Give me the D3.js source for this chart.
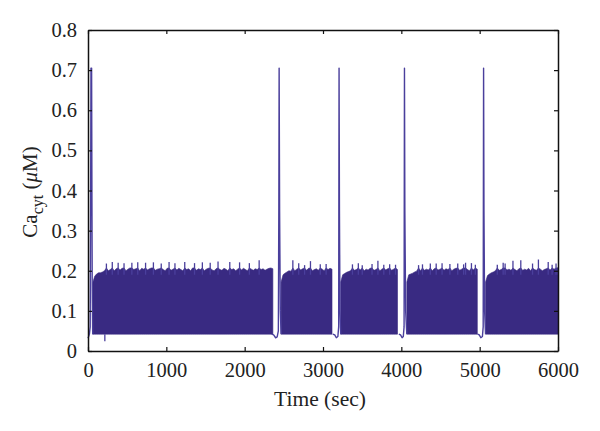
<!DOCTYPE html>
<html>
<head>
<meta charset="utf-8">
<script src="https://cdn.jsdelivr.net/npm/d3@7"></script>
<style>
    body { margin: 0; background: #fff; }
    text { font-family: "Liberation Serif", serif; fill: #222; }
</style>
</head>
<body>
<script>
// tick labels
const xTicks = [0, 1000, 2000, 3000, 4000, 5000, 6000];
const yTicks = [0, 0.1, 0.2, 0.3, 0.4, 0.5, 0.6, 0.7, 0.8];

// quiet stretches around each large spike
const gapTimes = [
    [0, 8, 18, 28, 34, 38, 46, 50, 54, 60],
    [2345, 2370, 2395, 2415, 2430, 2436, 2440, 2446, 2455, 2465],
    [3124, 3150, 3170, 3190, 3200, 3205, 3210, 3217, 3226],
    [3968, 3990, 4010, 4025, 4035, 4040, 4045, 4055, 4070],
    [4973, 4995, 5015, 5035, 5045, 5050, 5055, 5063, 5075]
];
const gapValues = [
    [0.032, 0.036, 0.042, 0.06, 0.4, 0.705, 0.705, 0.4, 0.15, 0.042],
    [0.042, 0.04, 0.033, 0.035, 0.05, 0.35, 0.705, 0.35, 0.1, 0.042],
    [0.042, 0.04, 0.033, 0.036, 0.06, 0.705, 0.35, 0.1, 0.042],
    [0.042, 0.04, 0.033, 0.036, 0.06, 0.705, 0.35, 0.1, 0.042],
    [0.042, 0.04, 0.033, 0.036, 0.06, 0.705, 0.35, 0.1, 0.042]
];

// peak height of each oscillation in the five bursts
const burstStarts = [60, 2465, 3226, 4070, 5075];
const burstPeaks = [
    [0.17, 0.186, 0.192, 0.195, 0.195, 0.197, 0.2, 0.218, 0.2, 0.203, 0.222, 0.2, 0.205, 0.22, 0.202, 0.206, 0.219, 0.2, 0.204, 0.207, 0.22, 0.203, 0.205, 0.221, 0.2, 0.206, 0.204, 0.22, 0.202, 0.205, 0.207, 0.221, 0.201, 0.204, 0.205, 0.218, 0.203, 0.2, 0.206, 0.222, 0.201, 0.204, 0.219, 0.202, 0.206, 0.203, 0.2, 0.222, 0.203, 0.205, 0.2, 0.207, 0.219, 0.201, 0.205, 0.203, 0.221, 0.2, 0.204, 0.206, 0.22, 0.202, 0.2, 0.205, 0.223, 0.203, 0.201, 0.206, 0.204, 0.2, 0.222, 0.203, 0.205, 0.2, 0.204, 0.221, 0.202, 0.206, 0.203, 0.2, 0.219, 0.204, 0.201, 0.205, 0.203, 0.226, 0.203, 0.205, 0.201, 0.204, 0.206, 0.207, 0.205],
    [0.172, 0.19, 0.194, 0.197, 0.2, 0.199, 0.226, 0.2, 0.204, 0.219, 0.202, 0.205, 0.214, 0.201, 0.206, 0.224, 0.2, 0.203, 0.205, 0.201, 0.216, 0.204, 0.2, 0.217, 0.203, 0.206, 0.204],
    [0.172, 0.19, 0.193, 0.196, 0.198, 0.2, 0.216, 0.201, 0.203, 0.219, 0.202, 0.214, 0.2, 0.204, 0.202, 0.206, 0.217, 0.201, 0.203, 0.225, 0.2, 0.204, 0.215, 0.202, 0.205, 0.216, 0.201, 0.204, 0.215, 0.203],
    [0.172, 0.19, 0.192, 0.194, 0.197, 0.199, 0.214, 0.2, 0.216, 0.201, 0.204, 0.202, 0.218, 0.2, 0.205, 0.218, 0.202, 0.204, 0.219, 0.201, 0.205, 0.203, 0.217, 0.2, 0.204, 0.206, 0.218, 0.201, 0.204, 0.216, 0.22, 0.203, 0.2, 0.219, 0.202, 0.215, 0.204],
    [0.172, 0.188, 0.192, 0.195, 0.197, 0.2, 0.215, 0.201, 0.203, 0.22, 0.218, 0.202, 0.204, 0.201, 0.225, 0.203, 0.2, 0.205, 0.226, 0.201, 0.204, 0.202, 0.206, 0.2, 0.218, 0.203, 0.201, 0.228, 0.204, 0.2, 0.203, 0.205, 0.222, 0.202, 0.215, 0.204, 0.218, 0.208]
];
const burstLow = 0.042;
const bandCap = 0.207;
const peakStep = 25;

// lone downward blip early in the first burst
const dipTimes = [215, 215];
const dipValues = [0.042, 0.024];

const width = 600, height = 431;
const plotLeft = 88, plotRight = 558, plotTop = 30, plotBottom = 351;
const traceColor = '#392a82';
const spikeColor = '#4a3f9c';

const x = d3.scaleLinear().domain([0, 6000]).range([plotLeft, plotRight]);
const y = d3.scaleLinear().domain([0, 0.8]).range([plotBottom, plotTop]);

const svg = d3.select('body').append('svg')
    .attr('width', width)
    .attr('height', height)
    .style('display', 'block');

const line = d3.line().x(d => x(d[0])).y(d => y(d[1]));
const area = d3.area().x(d => x(d[0])).y0(y(burstLow)).y1(d => y(Math.min(d[1], bandCap)));

// the oscillations are too tight to resolve, so each burst is a filled band
// with the taller peaks poking out as thin lines
burstStarts.forEach((start, b) => {
    const peaks = burstPeaks[b].map((p, i) => [start + i * peakStep, p]);
    svg.append('path')
        .datum(peaks)
        .attr('d', area)
        .attr('fill', traceColor)
        .attr('stroke', traceColor)
        .attr('stroke-width', 0.6);

    svg.selectAll(null)
        .data(peaks.filter(d => d[1] > bandCap))
        .enter().append('line')
        .attr('x1', d => x(d[0]))
        .attr('x2', d => x(d[0]))
        .attr('y1', y(0.19))
        .attr('y2', d => y(d[1]))
        .attr('stroke', spikeColor)
        .attr('stroke-width', 1.3);

    svg.append('path')
        .datum(gapTimes[b].map((t, i) => [t, gapValues[b][i]]))
        .attr('d', line)
        .attr('fill', 'none')
        .attr('stroke', spikeColor)
        .attr('stroke-width', 1.4)
        .attr('stroke-linejoin', 'round');
});

svg.append('path')
    .datum(dipTimes.map((t, i) => [t, dipValues[i]]))
    .attr('d', line)
    .attr('fill', 'none')
    .attr('stroke', spikeColor)
    .attr('stroke-width', 1.3);

// frame: labelled axes on bottom and left, bare ones on top and right
const axes = [
    [d3.axisBottom(x).tickValues(xTicks).tickFormat(d3.format('d')), 0, plotBottom],
    [d3.axisTop(x).tickValues(xTicks).tickFormat(''), 0, plotTop],
    [d3.axisLeft(y).tickValues(yTicks).tickFormat(d => d === 0 ? '0' : d3.format('.1f')(d)), plotLeft, 0],
    [d3.axisRight(y).tickValues(yTicks).tickFormat(''), plotRight, 0]
];
axes.forEach(([axis, tx, ty]) => {
    const g = svg.append('g')
        .attr('transform', `translate(${tx},${ty})`)
        .call(axis.tickSizeOuter(0).tickSizeInner(-4).tickPadding(11));
    g.select('.domain').attr('stroke', '#111').attr('stroke-width', 1.5);
    g.selectAll('.tick line').attr('stroke', '#111').attr('stroke-width', 1.2);
    g.selectAll('.tick text').style('font-size', '20.5px').style('font-family', '"Liberation Serif", serif');
});

svg.append('text')
    .attr('x', 320)
    .attr('y', 406)
    .attr('text-anchor', 'middle')
    .style('font-size', '21.5px')
    .text('Time (sec)');

const yLabel = svg.append('text')
    .attr('transform', 'translate(37,192) rotate(-90)')
    .attr('text-anchor', 'middle')
    .style('font-size', '21px');
yLabel.append('tspan').text('Ca');
yLabel.append('tspan').attr('dy', 6).style('font-size', '16px').text('cyt');
yLabel.append('tspan').attr('dy', -6).text(' (');
yLabel.append('tspan').style('font-style', 'italic').text('\u03bc');
yLabel.append('tspan').text('M)');
</script>
</body>
</html>
